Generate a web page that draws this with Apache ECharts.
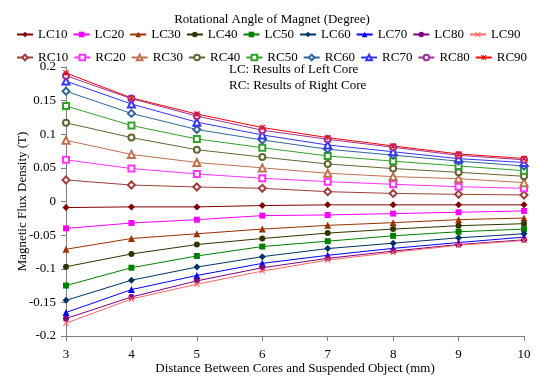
<!DOCTYPE html>
<html><head><meta charset="utf-8">
<script src="https://cdn.jsdelivr.net/npm/echarts@6/dist/echarts.min.js"></script>
<style>html,body{margin:0;padding:0;background:#fff}#c{width:544px;height:376px}</style>
</head><body><div id="c"></div>
<script>
var xValues = [3,4,5,6,7,8,9,10];
var LC10 = [-0.009,-0.008,-0.008,-0.006,-0.005,-0.005,-0.005,-0.005];
var LC20 = [-0.040,-0.032,-0.027,-0.021,-0.020,-0.018,-0.016,-0.014];
var LC30 = [-0.071,-0.055,-0.048,-0.041,-0.0355,-0.0315,-0.027,-0.0246];
var LC40 = [-0.097,-0.078,-0.064,-0.055,-0.047,-0.041,-0.036,-0.033];
var LC50 = [-0.125,-0.0985,-0.081,-0.067,-0.059,-0.051,-0.045,-0.041];
var LC60 = [-0.147,-0.117,-0.0975,-0.082,-0.070,-0.062,-0.054,-0.048];
var LC70 = [-0.165,-0.131,-0.110,-0.092,-0.080,-0.0697,-0.061,-0.053];
var LC80 = [-0.174,-0.142,-0.118,-0.0985,-0.0845,-0.0737,-0.064,-0.057];
var LC90 = [-0.181,-0.145,-0.123,-0.1035,-0.087,-0.0757,-0.065,-0.058];
var RC10 = [0.032,0.0245,0.0216,0.0196,0.0146,0.012,0.0107,0.0097];
var RC20 = [0.062,0.049,0.041,0.0345,0.0295,0.0256,0.022,0.0196];
var RC30 = [0.091,0.070,0.058,0.050,0.042,0.037,0.034,0.028];
var RC40 = [0.117,0.095,0.077,0.066,0.0558,0.049,0.0434,0.0375];
var RC50 = [0.142,0.113,0.093,0.080,0.0677,0.060,0.0528,0.0458];
var RC60 = [0.164,0.131,0.107,0.0915,0.0777,0.069,0.060,0.0528];
var RC70 = [0.179,0.145,0.118,0.099,0.084,0.074,0.0637,0.058];
var RC80 = [0.187,0.153,0.127,0.106,0.0925,0.0806,0.0687,0.062];
var RC90 = [0.191,0.154,0.130,0.110,0.095,0.0826,0.0707,0.064];
var lcNames = ['LC10','LC20','LC30','LC40','LC50','LC60','LC70','LC80','LC90'];
var rcNames = ['RC10','RC20','RC30','RC40','RC50','RC60','RC70','RC80','RC90'];

var xPath = 'path://M0,1.2 L1.2,0 L5,3.8 L8.8,0 L10,1.2 L6.2,5 L10,8.8 L8.8,10 L5,6.2 L1.2,10 L0,8.8 L3.8,5 Z';
var starPath = 'path://M0,1.2 L1.2,0 L5,3.8 L8.8,0 L10,1.2 L6.2,5 L10,8.8 L8.8,10 L5,6.2 L1.2,10 L0,8.8 L3.8,5 Z M4.4,0 L5.6,0 L5.6,10 L4.4,10 Z';

var lcData = [LC10,LC20,LC30,LC40,LC50,LC60,LC70,LC80,LC90];
var rcData = [RC10,RC20,RC30,RC40,RC50,RC60,RC70,RC80,RC90];
var lcColors = ['#800000','#FF00FF','#993300','#333300','#008000','#003366','#0000FF','#800080','#FF6666'];
var rcColors = ['#A0403C','#FF33FF','#C0704F','#666633','#33A02C','#336699','#3333FF','#993399','#FF0000'];
var lcSymbols = ['diamond','rect','triangle','circle','rect','diamond','triangle','circle',xPath];
var rcSymbols = ['emptyDiamond','emptyRect','emptyTriangle','emptyCircle','emptyRect','emptyDiamond','emptyTriangle','emptyCircle',starPath];
var lcSizes = [7,6,7,6,6,7,7,6,6];
var rcSizes = [7,6,7,6,6,7,7,6,6];

function pairs(arr){ return arr.map(function(v,i){ return [xValues[i], v]; }); }

var series = [];
for (var i=0;i<9;i++){
  series.push({name: lcNames[i], type:'line', data: pairs(lcData[i]), symbol: lcSymbols[i], symbolSize: lcSizes[i],
    lineStyle:{width:1,color:lcColors[i]}, itemStyle:{color:lcColors[i]}, animation:false});
}
for (var i=0;i<9;i++){
  series.push({name: rcNames[i], type:'line', data: pairs(rcData[i]), symbol: rcSymbols[i], symbolSize: rcSizes[i],
    lineStyle:{width:1,color:rcColors[i]}, itemStyle:{color:rcColors[i], borderWidth:1}, animation:false});
}

var font = '"Liberation Serif", "Times New Roman", serif';
var legendCommon = {
  left: 16, width: 528, padding: 0, itemWidth: 16, itemHeight: 7, itemGap: 5,
  textStyle: {fontFamily: font, fontSize: 13, color:'#000', width: 30, overflow: 'none'},
  orient: 'horizontal'
};

var chart = echarts.init(document.getElementById('c'));
chart.setOption({
  backgroundColor:'#fff',
  animation:false,
  title: {text:'Rotational Angle of Magnet (Degree)', left: 'center', top: 8, textStyle:{fontFamily:font, fontSize:13, fontWeight:'normal', color:'#000'}},
  legend: [
    Object.assign({}, legendCommon, {top: 28, data: lcNames}),
    Object.assign({}, legendCommon, {top: 51, data: rcNames})
  ],
  grid: {left: 66, right: 20, top: 67, bottom: 40, outerBoundsMode: 'none', containLabel: false},
  xAxis: {type:'value', min:3, max:10, interval:1,
    name:'Distance Between Cores and Suspended Object (mm)', nameLocation:'middle', nameGap: 26, nameMoveOverlap: false,
    nameTextStyle:{fontFamily:font, fontSize:13, color:'#000'},
    axisLine:{onZero:false, lineStyle:{color:'#808080'}},
    axisTick:{lineStyle:{color:'#808080'}, length:5},
    axisLabel:{fontFamily:font, fontSize:13, color:'#000', margin:12},
    splitLine:{show:false}},
  yAxis: {type:'value', min:-0.2, max:0.2, interval:0.05,
    name:'Magnetic Flux Density (T)', nameLocation:'middle', nameGap: 37, nameMoveOverlap: false,
    nameTextStyle:{fontFamily:font, fontSize:13, color:'#000'},
    axisLine:{show:true, lineStyle:{color:'#808080'}},
    axisTick:{show:true, lineStyle:{color:'#808080'}, length:5},
    axisLabel:{fontFamily:font, fontSize:13, color:'#000', margin:10},
    splitLine:{show:false}},
  graphic: [
    {type:'text', left:229, top:63, style:{text:'LC: Results of Left Core', font:'13px "Liberation Serif"', fill:'#000'}},
    {type:'text', left:229, top:79, style:{text:'RC: Results of Right Core', font:'13px "Liberation Serif"', fill:'#000'}}
  ],
  series: series
});
</script></body></html>
